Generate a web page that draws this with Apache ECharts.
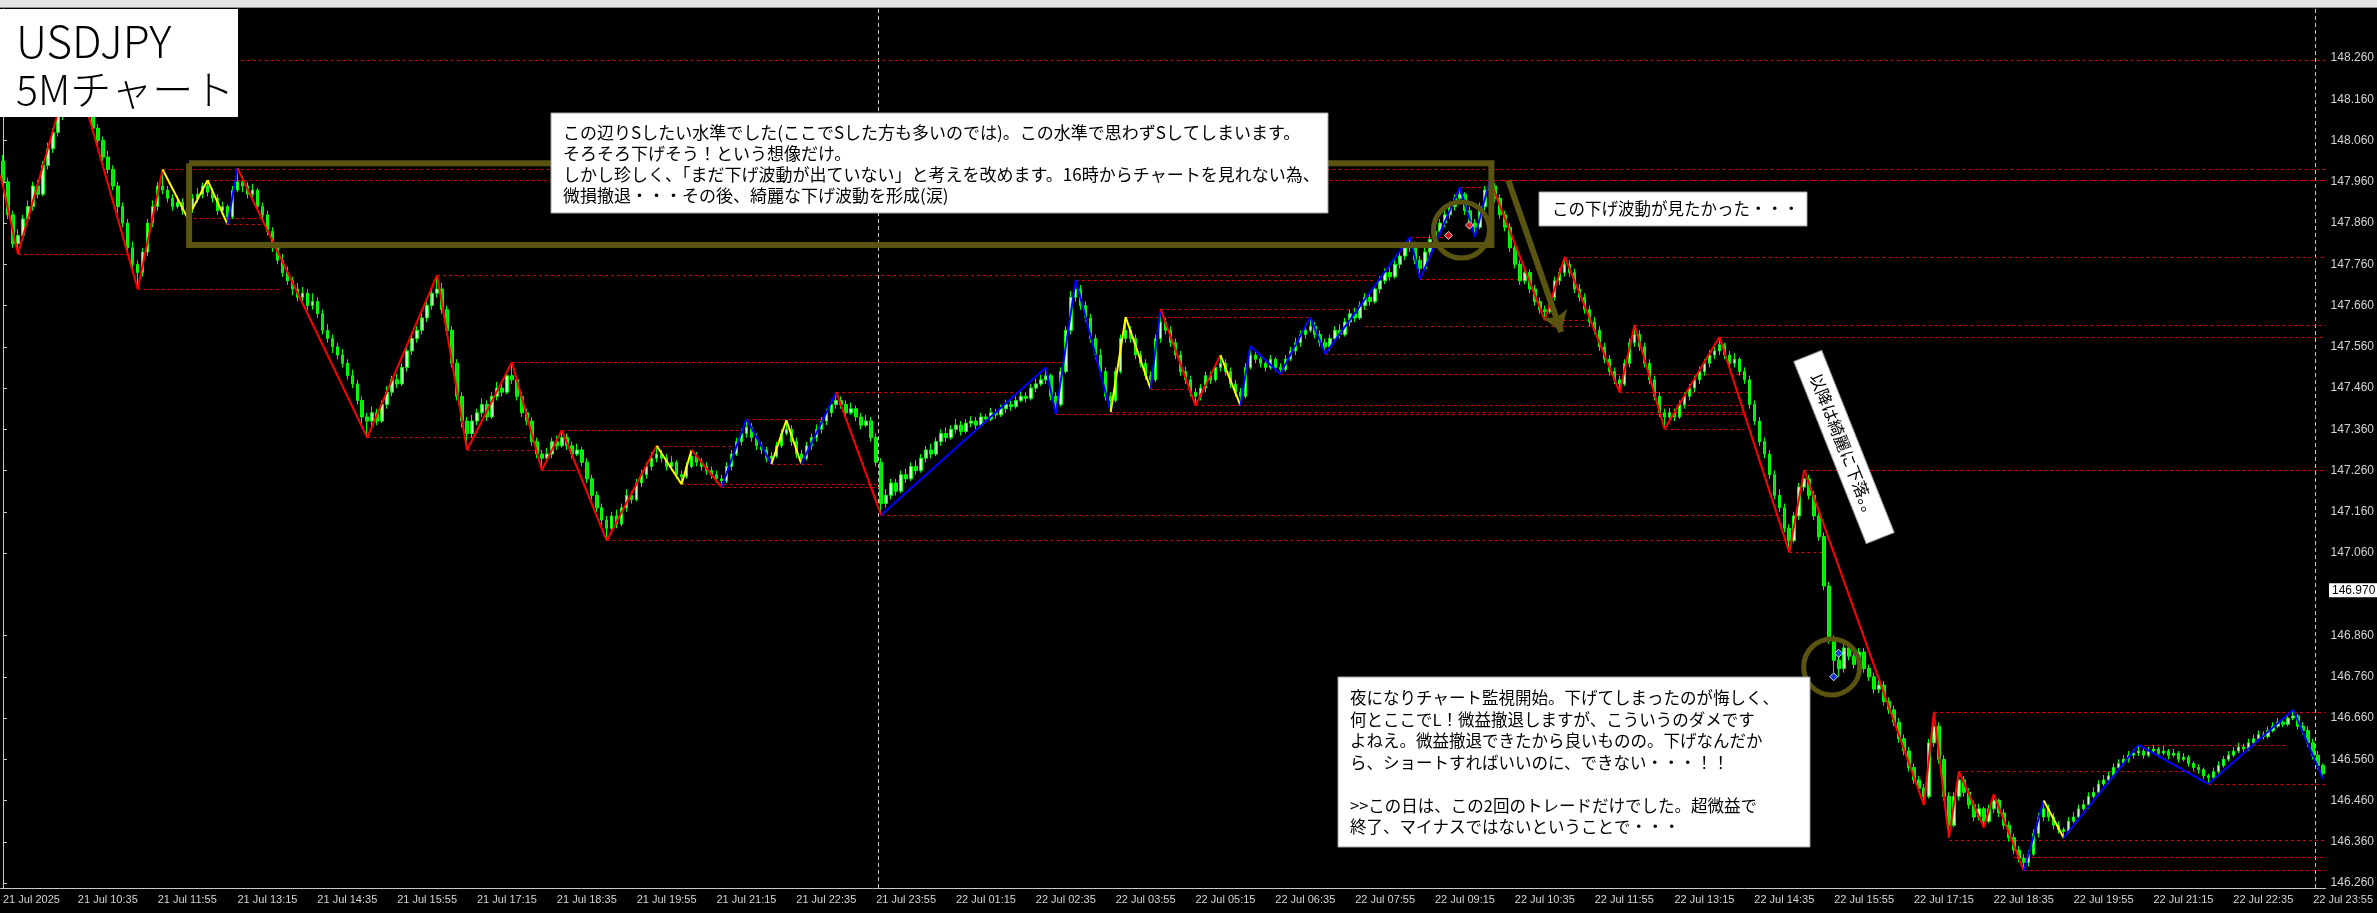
<!DOCTYPE html>
<html><head><meta charset="utf-8">
<script src="https://cdn.jsdelivr.net/npm/echarts@6/dist/echarts.min.js"></script>
<style>html,body{margin:0;padding:0;background:#000;}#c{width:2377px;height:913px;}</style>
</head><body><div id="c"></div>
<script>
// All prices stored in units of 0.001 JPY above BASE (e.g. 1785 -> 147.785)
const BASE = 146.0;
const firstLabel = "21 Jul 2025";
const startDay = 21, startMinute = 9 * 60 + 20; // first bar: 21 Jul 09:20, 5-minute bars
const openU = [
2010,1960,1880,1810,1830,1870,1900,1950,1930,2000,
2040,2080,2120,2150,2200,2210,2180,2140,2150,2090,
2060,2020,1990,1950,1900,1860,1800,1760,1740,1790,
1860,1900,1950,1940,1920,1900,1910,1890,1895,1920,
1930,1950,1935,1920,1890,1900,1875,1940,1960,1950,
1930,1940,1900,1880,1840,1800,1770,1740,1720,1700,
1680,1690,1660,1670,1640,1600,1580,1560,1540,1520,
1490,1470,1430,1390,1380,1400,1380,1420,1450,1480,
1470,1510,1550,1580,1600,1630,1660,1690,1700,1650,
1600,1520,1440,1380,1350,1380,1400,1420,1390,1440,
1460,1450,1490,1480,1440,1400,1380,1330,1300,1290,
1300,1330,1320,1340,1320,1300,1310,1280,1240,1200,
1170,1140,1120,1150,1130,1170,1200,1190,1230,1250,
1270,1290,1300,1290,1270,1280,1250,1245,1270,1295,
1280,1270,1260,1250,1240,1235,1270,1300,1330,1350,
1365,1340,1320,1310,1290,1295,1320,1350,1360,1330,
1300,1290,1320,1340,1360,1380,1400,1420,1430,1420,
1400,1410,1390,1370,1380,1340,1280,1180,1200,1230,
1210,1250,1240,1270,1260,1290,1310,1300,1330,1350,
1340,1360,1370,1355,1375,1380,1370,1390,1385,1400,
1395,1410,1420,1415,1430,1440,1435,1460,1470,1480,
1490,1440,1420,1500,1600,1680,1700,1660,1630,1580,
1540,1500,1440,1430,1500,1580,1600,1580,1540,1520,
1490,1480,1580,1620,1600,1570,1540,1500,1480,1450,
1440,1460,1490,1480,1510,1520,1500,1470,1450,1440,
1510,1540,1530,1520,1510,1530,1510,1505,1530,1550,
1570,1590,1600,1610,1590,1570,1560,1580,1600,1590,
1620,1640,1630,1660,1680,1670,1700,1720,1740,1730,
1760,1780,1800,1810,1770,1750,1790,1820,1840,1860,
1880,1900,1920,1930,1890,1860,1850,1900,1940,1950,
1920,1880,1850,1800,1760,1720,1740,1700,1670,1650,
1645,1680,1720,1740,1760,1740,1700,1680,1650,1620,
1600,1560,1530,1500,1480,1470,1520,1570,1590,1560,
1520,1480,1440,1400,1390,1400,1390,1420,1440,1460,
1480,1500,1520,1540,1550,1565,1540,1520,1530,1500,
1480,1420,1380,1330,1300,1250,1200,1170,1120,1090,
1150,1220,1240,1200,1150,1100,980,850,800,780,
830,810,790,820,780,760,730,740,700,680,
650,610,580,540,510,490,470,600,640,560,
470,400,470,510,480,450,420,440,410,440,
460,430,400,370,340,320,310,330,380,420,
440,420,400,390,385,410,420,440,450,470,
480,500,510,520,540,550,560,570,575,580,
570,580,585,575,580,570,575,560,565,550,
540,535,520,515,530,545,560,570,580,590,
585,600,610,620,615,630,640,650,645,660,
665,640,630,600,570,545];
const highU = [
2025,1970,1890,1845,1880,1915,1960,1965,2010,2055,
2090,2135,2160,2215,2255,2225,2190,2165,2160,2100,
2070,2035,2000,1960,1910,1870,1815,1770,1800,1870,
1915,1960,1990,1950,1930,1925,1920,1905,1930,1945,
1958,1964,1945,1930,1912,1905,1950,1993,1975,1960,
1955,1945,1910,1890,1850,1810,1785,1755,1730,1715,
1705,1700,1690,1680,1650,1615,1590,1570,1555,1530,
1505,1480,1440,1400,1415,1410,1430,1465,1490,1495,
1520,1560,1595,1610,1645,1670,1705,1734,1715,1660,
1610,1530,1450,1390,1395,1410,1435,1430,1450,1475,
1470,1500,1523,1490,1450,1410,1390,1340,1310,1315,
1340,1345,1358,1350,1330,1325,1318,1290,1250,1210,
1180,1150,1160,1165,1180,1215,1210,1240,1262,1280,
1305,1320,1310,1300,1295,1285,1260,1280,1310,1305,
1290,1280,1270,1260,1250,1280,1310,1340,1362,1385,
1375,1350,1330,1318,1305,1330,1360,1382,1370,1340,
1310,1330,1350,1372,1390,1410,1432,1450,1440,1430,
1425,1418,1400,1395,1390,1350,1290,1215,1240,1240,
1260,1265,1280,1285,1300,1320,1325,1340,1360,1365,
1370,1385,1380,1385,1392,1390,1400,1398,1412,1410,
1420,1432,1430,1440,1452,1450,1470,1482,1492,1510,
1495,1450,1510,1610,1695,1722,1710,1670,1640,1590,
1555,1510,1450,1510,1590,1632,1610,1590,1550,1530,
1500,1590,1652,1630,1610,1580,1550,1512,1490,1460,
1470,1500,1500,1520,1540,1530,1510,1480,1460,1520,
1562,1550,1540,1530,1540,1535,1520,1540,1560,1582,
1600,1612,1632,1620,1600,1580,1590,1610,1615,1630,
1650,1655,1670,1690,1692,1710,1732,1750,1752,1770,
1792,1810,1826,1815,1780,1800,1830,1852,1870,1892,
1912,1930,1947,1935,1900,1870,1910,1950,1965,1958,
1930,1890,1860,1810,1770,1752,1748,1710,1680,1660,
1690,1730,1750,1778,1770,1750,1712,1690,1660,1632,
1610,1570,1540,1510,1490,1530,1580,1613,1600,1570,
1530,1490,1450,1410,1412,1410,1430,1450,1470,1490,
1512,1530,1552,1562,1584,1570,1550,1545,1535,1510,
1490,1430,1390,1340,1310,1260,1215,1180,1130,1160,
1230,1261,1250,1210,1160,1110,990,860,820,845,
840,825,830,830,790,770,755,750,710,690,
660,620,590,550,520,500,610,675,650,570,
480,480,530,520,490,460,452,445,450,475,
465,440,410,380,350,330,340,390,430,460,
450,430,410,395,420,432,450,462,480,492,
510,522,530,550,560,570,580,585,595,588,
590,595,590,592,585,585,580,575,570,555,
548,540,525,540,555,568,580,590,600,598,
610,620,630,628,640,650,660,658,670,680,
670,650,640,610,580,550];
const lowU = [
1950,1870,1800,1785,1820,1860,1890,1920,1925,1990,
2030,2070,2110,2140,2190,2170,2130,2125,2080,2045,
2010,1980,1940,1885,1850,1790,1745,1700,1730,1780,
1850,1890,1930,1910,1890,1895,1880,1872,1885,1910,
1920,1925,1910,1880,1880,1857,1870,1935,1935,1920,
1920,1890,1870,1830,1790,1760,1730,1710,1685,1670,
1670,1650,1650,1630,1590,1570,1545,1530,1510,1480,
1460,1420,1375,1340,1365,1370,1375,1410,1440,1460,
1465,1500,1540,1570,1590,1620,1650,1680,1640,1590,
1510,1430,1365,1310,1340,1370,1390,1380,1385,1430,
1440,1445,1470,1430,1390,1370,1320,1290,1261,1280,
1290,1310,1315,1310,1290,1295,1270,1230,1190,1160,
1130,1090,1110,1120,1125,1160,1180,1185,1220,1240,
1260,1280,1280,1260,1260,1240,1227,1240,1265,1270,
1260,1250,1240,1230,1220,1230,1260,1295,1320,1340,
1330,1310,1300,1280,1276,1290,1315,1345,1320,1290,
1276,1285,1310,1330,1350,1370,1390,1410,1410,1390,
1395,1380,1360,1365,1330,1270,1152,1170,1190,1200,
1205,1230,1235,1250,1255,1280,1290,1295,1320,1330,
1335,1350,1345,1350,1365,1360,1365,1375,1380,1385,
1390,1400,1405,1410,1425,1425,1430,1450,1465,1470,
1430,1397,1415,1495,1590,1670,1650,1620,1570,1530,
1490,1430,1402,1425,1495,1570,1570,1530,1510,1480,
1458,1475,1570,1590,1560,1530,1490,1470,1440,1418,
1430,1450,1470,1475,1500,1490,1460,1440,1418,1435,
1505,1520,1510,1500,1505,1500,1494,1500,1525,1540,
1560,1580,1595,1580,1560,1543,1550,1575,1580,1585,
1610,1620,1625,1650,1660,1665,1690,1712,1720,1725,
1750,1770,1790,1760,1724,1745,1780,1810,1830,1850,
1870,1890,1910,1880,1850,1826,1845,1890,1930,1910,
1870,1840,1790,1750,1710,1712,1690,1660,1640,1625,
1640,1672,1710,1730,1730,1690,1670,1640,1610,1590,
1550,1520,1490,1470,1450,1465,1510,1560,1550,1510,
1470,1430,1390,1361,1380,1380,1385,1410,1430,1450,
1470,1490,1510,1530,1540,1530,1510,1510,1490,1470,
1410,1370,1320,1290,1240,1190,1160,1110,1062,1085,
1140,1210,1190,1140,1090,970,840,770,760,770,
800,780,785,770,750,720,720,690,670,640,
600,570,530,500,480,449,465,590,550,460,
370,395,460,470,440,410,412,395,405,430,
420,390,360,330,310,290,300,325,370,410,
410,390,380,370,380,405,410,435,440,465,
475,495,502,515,535,545,552,562,568,562,
565,572,565,570,560,565,552,555,542,532,
525,512,500,510,525,540,555,565,575,578,
580,595,605,608,610,625,635,638,640,655,
632,620,590,560,535,512];
const closeU = [
1960,1880,1810,1830,1870,1900,1950,1930,2000,2040,
2080,2120,2150,2200,2210,2180,2140,2150,2090,2060,
2020,1990,1950,1900,1860,1800,1760,1740,1790,1860,
1900,1950,1940,1920,1900,1910,1890,1895,1920,1930,
1950,1935,1920,1890,1900,1875,1940,1960,1950,1930,
1940,1900,1880,1840,1800,1770,1740,1720,1700,1680,
1690,1660,1670,1640,1600,1580,1560,1540,1520,1490,
1470,1430,1390,1380,1400,1380,1420,1450,1480,1470,
1510,1550,1580,1600,1630,1660,1690,1700,1650,1600,
1520,1440,1380,1350,1380,1400,1420,1390,1440,1460,
1450,1490,1480,1440,1400,1380,1330,1300,1290,1300,
1330,1320,1340,1320,1300,1310,1280,1240,1200,1170,
1140,1120,1150,1130,1170,1200,1190,1230,1250,1270,
1290,1300,1290,1270,1280,1250,1245,1270,1295,1280,
1270,1260,1250,1240,1235,1270,1300,1330,1350,1365,
1340,1320,1310,1290,1295,1320,1350,1360,1330,1300,
1290,1320,1340,1360,1380,1400,1420,1430,1420,1400,
1410,1390,1370,1380,1340,1280,1180,1200,1230,1210,
1250,1240,1270,1260,1290,1310,1300,1330,1350,1340,
1360,1370,1355,1375,1380,1370,1390,1385,1400,1395,
1410,1420,1415,1430,1440,1435,1460,1470,1480,1490,
1440,1420,1500,1600,1680,1700,1660,1630,1580,1540,
1500,1440,1430,1500,1580,1600,1580,1540,1520,1490,
1480,1580,1620,1600,1570,1540,1500,1480,1450,1440,
1460,1490,1480,1510,1520,1500,1470,1450,1440,1510,
1540,1530,1520,1510,1530,1510,1505,1530,1550,1570,
1590,1600,1610,1590,1570,1560,1580,1600,1590,1620,
1640,1630,1660,1680,1670,1700,1720,1740,1730,1760,
1780,1800,1810,1770,1750,1790,1820,1840,1860,1880,
1900,1920,1930,1890,1860,1850,1900,1940,1950,1920,
1880,1850,1800,1760,1720,1740,1700,1670,1650,1645,
1680,1720,1740,1760,1740,1700,1680,1650,1620,1600,
1560,1530,1500,1480,1470,1520,1570,1590,1560,1520,
1480,1440,1400,1390,1400,1390,1420,1440,1460,1480,
1500,1520,1540,1550,1565,1540,1520,1530,1500,1480,
1420,1380,1330,1300,1250,1200,1170,1120,1090,1150,
1220,1240,1200,1150,1100,980,850,800,780,830,
810,790,820,780,760,730,740,700,680,650,
610,580,540,510,490,470,600,640,560,470,
400,470,510,480,450,420,440,410,440,460,
430,400,370,340,320,310,330,380,420,440,
420,400,390,385,410,420,440,450,470,480,
500,510,520,540,550,560,570,575,580,570,
580,585,575,580,570,575,560,565,550,540,
535,520,515,530,545,560,570,580,590,585,
600,610,620,615,630,640,650,645,660,665,
640,630,600,570,545,525];

// Y axis tick labels (146.960 hidden behind the marked-price tag)
const yTicks = [146.26,146.36,146.46,146.56,146.66,146.76,146.86,147.06,147.16,147.26,147.36,147.46,147.56,147.66,147.76,147.86,147.96,148.06,148.16,148.26];
const markedPrice = 146.970;

// ZigZag pivots (bar index, price units) and segment colours (r/y/b)
const zigIdx = [-0.5,3,14,27,32,37,41,45,47,73,87,93,102,108,112,121,131,136,138,144,149,154,157,160,167,176,209,211,215,222,225,230,232,239,244,248,250,256,262,265,282,284,292,295,298,309,313,324,327,333,344,358,361,385,387,390,392,397,399,405,409,413,428,442,459,465];
const zigU = [1976,1785,2255,1700,1990,1872,1964,1857,1993,1340,1734,1310,1523,1261,1358,1090,1320,1227,1310,1220,1385,1276,1382,1276,1450,1152,1510,1397,1722,1402,1632,1458,1652,1418,1540,1418,1562,1494,1632,1543,1826,1724,1947,1826,1965,1625,1778,1450,1613,1361,1584,1062,1261,449,675,370,530,395,475,290,460,370,595,500,680,512];
const zigSegColor = "rrrryyybrrrrrrrryyrbbyybrbbbbyybrrybbbbbbbbbrrrrrrrrrrrrrrrbybbbb".split("");

// Horizontal support / resistance levels (price units, from bar, to bar)
const levelU =    [2255,1990,1963,1963,1872,1857,1785,1700,1734,1523,1340,1310,1358,1261,1090,1320,1227,1220,1385,1276,1450,1152,1722,1632,1652,1610,1543,1494,1458,1418,1397,1402,1778,1724,1826,1947,1625,1613,1584,1450,1361,1261,1062,675,500,595,364,323,290,530];
const levelFrom = [14,32,41,298,37,45,3,27,87,102,73,93,112,108,121,131,136,144,149,154,167,176,215,225,232,273,265,256,230,239,211,222,313,284,282,292,309,327,344,324,333,361,358,387,442,428,390,403,405,392];
const levelTo =   [465.5,465.5,298,465.5,52,52,25,56,275,212,106,108,148,117,358,146,176,176,164,164,204,357,275,262,274,319,319,349,238,349,349,349,465.5,306,289,297,319,465.5,465.5,350,349,465.5,365,465.5,465.5,458,465.5,465.5,465.5,440];
const dashedLevels = [3];

// Day separators (between bars)
const separatorIdx = [175.5, 463.5];

// Annotations (bar index, price units)
const boxCorners = [[37.3,2005],[298.3,2005],[298.3,1807],[37.3,1807],[37.3,2005]];
const arrowPts = [[301.7,1964],[312.3,1596]];
const circleCenters = [[292.3,1843],[366.5,784]];
const sellMarks = [[289.7,1830],[293.9,1855]];
const buyMarks = [[367.9,817],[366.9,760]];

const P = u => +(BASE + u / 1000).toFixed(3);
const categories = [];
for (let i = 0; i < closeU.length; i++) {
  const m = startMinute + 5 * i;
  const d = startDay + Math.floor(m / 1440);
  const mm = m % 1440;
  categories.push(d + ' Jul ' + String(Math.floor(mm / 60)).padStart(2, '0') + ':' + String(mm % 60).padStart(2, '0'));
}
const showLabel = i => i === 0 || (i >= 15 && (i - 15) % 16 === 0);
const candleData = closeU.map((c, i) => [P(openU[i]), P(c), P(lowU[i]), P(highU[i])]);
const zzColors = { r: '#ff0000', y: '#ffff00', b: '#0000ff' };
const zigData = [];
for (let k = 1; k < zigIdx.length; k++) {
  zigData.push({ coords: [[zigIdx[k - 1], P(zigU[k - 1])], [zigIdx[k], P(zigU[k])]], lineStyle: { color: zzColors[zigSegColor[k - 1]] } });
}
const levelData = levelU.map((u, k) => ({
  coords: [[levelFrom[k], P(u)], [levelTo[k], P(u)]],
  lineStyle: { type: dashedLevels.includes(k) ? [7, 3] : [3, 3] }
}));
const Y_MIN = 146.248, Y_MAX = 148.379;
const sepData = separatorIdx.map(x => ({ coords: [[x, Y_MIN], [x, Y_MAX]] }));
const OLIVE = '#5a5410';
const labelColor = '#d4d4d4';
const jp = '"Noto Sans CJK JP", sans-serif';

const chart = echarts.init(document.getElementById('c'), null, { width: 2377, height: 913 });
chart.setOption({
  backgroundColor: '#000',
  animation: false,
  grid: { left: 0, right: 49, top: 9, bottom: 25 },
  xAxis: [{
    type: 'category', data: categories, boundaryGap: true,
    axisLine: { lineStyle: { color: '#c8c8c8', width: 1 } },
    axisTick: { interval: (i) => showLabel(i), alignWithLabel: true, length: 4, lineStyle: { color: '#c8c8c8' } },
    axisLabel: { interval: (i) => showLabel(i), formatter: (v, i) => i === 0 ? firstLabel : v, align: 'left', color: labelColor, fontSize: 11, fontFamily: 'Liberation Sans', margin: 6 },
    splitLine: { show: false }
  }, { type: 'value', min: -0.5, max: 465.5, show: false }],
  yAxis: {
    type: 'value', position: 'right', min: Y_MIN, max: Y_MAX, scale: true,
    axisLine: { show: true, lineStyle: { color: '#c8c8c8' } },
    axisTick: { show: true, customValues: yTicks, length: 4, lineStyle: { color: '#c8c8c8' } },
    axisLabel: { customValues: yTicks, formatter: v => v.toFixed(3), color: labelColor, fontSize: 12, fontFamily: 'Liberation Sans', margin: 5 },
    splitLine: { show: false }
  },
  series: [
    { type: 'lines', coordinateSystem: 'cartesian2d', xAxisIndex: 1, z: 1, silent: true,
      lineStyle: { color: '#c8c8c8', width: 1, type: [4, 3], opacity: 1 }, data: sepData },
    { type: 'lines', coordinateSystem: 'cartesian2d', xAxisIndex: 1, z: 2, silent: true,
      lineStyle: { color: '#e00000', width: 1, opacity: 1 }, data: levelData },
    { type: 'candlestick', xAxisIndex: 0, z: 3, barWidth: 3, data: candleData,
      itemStyle: { color: '#c0ffc0', color0: '#00e600', borderColor: '#00ff00', borderColor0: '#00ff00', borderWidth: 1 } },
    { type: 'lines', coordinateSystem: 'cartesian2d', xAxisIndex: 1, z: 4, silent: true,
      lineStyle: { width: 2, opacity: 1 }, data: zigData },
    { type: 'lines', coordinateSystem: 'cartesian2d', xAxisIndex: 1, z: 5, silent: true, polyline: true,
      lineStyle: { color: OLIVE, width: 6, opacity: 1 }, data: [{ coords: boxCorners.map(c => [c[0], P(c[1])]) }] },
    { type: 'lines', coordinateSystem: 'cartesian2d', xAxisIndex: 1, z: 5, silent: true,
      symbol: ['none', 'arrow'], symbolSize: 20,
      lineStyle: { color: OLIVE, width: 6, opacity: 1 }, data: [{ coords: arrowPts.map(c => [c[0], P(c[1])]) }] },
    { type: 'scatter', xAxisIndex: 1, z: 5, silent: true, symbol: 'circle', symbolSize: 56,
      itemStyle: { color: 'rgba(0,0,0,0)', borderColor: OLIVE, borderWidth: 5, opacity: 1 },
      data: circleCenters.map(c => [c[0], P(c[1])]) },
    { type: 'scatter', xAxisIndex: 1, z: 6, silent: true, symbol: 'diamond', symbolSize: 8,
      itemStyle: { color: '#ff2020', borderColor: '#fff', borderWidth: 1 }, data: sellMarks.map(c => [c[0], P(c[1])]) },
    { type: 'scatter', xAxisIndex: 1, z: 6, silent: true, symbol: 'diamond', symbolSize: 8,
      itemStyle: { color: '#2040ff', borderColor: '#fff', borderWidth: 1 }, data: buyMarks.map(c => [c[0], P(c[1])]) }
  ]
});

// marked price tag on the price scale, positioned through the y axis
const tagY = chart.convertToPixel({ yAxisIndex: 0 }, markedPrice);
chart.setOption({
  graphic: [
    { type: 'rect', z: 100, shape: { x: 0, y: 0, width: 2377, height: 7 }, style: { fill: '#e4e4e4' } },
    { type: 'rect', z: 100, shape: { x: 0, y: 7, width: 2377, height: 1 }, style: { fill: '#909090' } },
    { type: 'rect', z: 100, shape: { x: 2329, y: tagY - 7, width: 48, height: 14 }, style: { fill: '#ffffff' } },
    { type: 'text', z: 101, x: 2332, y: tagY, style: { text: markedPrice.toFixed(3), font: '12px "Liberation Sans"', fill: '#000', verticalAlign: 'middle' } },
    { type: 'rect', z: 100, shape: { x: 0, y: 9, width: 238, height: 108 }, style: { fill: '#fff' } },
    { type: 'text', z: 101, x: 16, y: 41, style: { text: 'USDJPY', font: '300 44px ' + jp, fill: '#000', verticalAlign: 'middle' } },
    { type: 'text', z: 101, x: 16, y: 89, style: { text: '5Mチャート', font: '300 41px ' + jp, fill: '#000', verticalAlign: 'middle' } },
    { type: 'rect', z: 100, shape: { x: 551, y: 113, width: 777, height: 100 }, style: { fill: '#fff', stroke: '#a0a0a0', lineWidth: 1 } },
    { type: 'text', z: 101, x: 563, y: 122, style: { text: 'この辺りSしたい水準でした(ここでSした方も多いのでは)。この水準で思わずSしてしまいます。\nそろそろ下げそう！という想像だけ。\nしかし珍しく、「まだ下げ波動が出ていない」と考えを改めます。16時からチャートを見れない為、\n微損撤退・・・その後、綺麗な下げ波動を形成(涙)', font: '17px ' + jp, fill: '#000', lineHeight: 21, verticalAlign: 'top' } },
    { type: 'rect', z: 100, shape: { x: 1539, y: 192, width: 268, height: 34 }, style: { fill: '#fff', stroke: '#a0a0a0', lineWidth: 1 } },
    { type: 'text', z: 101, x: 1552, y: 209, style: { text: 'この下げ波動が見たかった・・・', font: '16.5px ' + jp, fill: '#000', verticalAlign: 'middle' } },
    { type: 'group', z: 100, x: 1844, y: 447, rotation: -1.192, children: [
      { type: 'rect', z: 100, shape: { x: -98, y: -15, width: 196, height: 30 }, style: { fill: '#fff', stroke: '#a0a0a0', lineWidth: 1 } },
      { type: 'text', z: 101, x: 0, y: 0, style: { text: '以降は綺麗に下落。。', font: '16.5px ' + jp, fill: '#000', align: 'center', verticalAlign: 'middle' } }
    ] },
    { type: 'rect', z: 100, shape: { x: 1338, y: 677, width: 472, height: 170 }, style: { fill: '#fff', stroke: '#a0a0a0', lineWidth: 1 } },
    { type: 'text', z: 101, x: 1350, y: 687, style: { text: '夜になりチャート監視開始。下げてしまったのが悔しく、\n何とここでL！微益撤退しますが、こういうのダメです\nよねえ。微益撤退できたから良いものの。下げなんだか\nら、ショートすればいいのに、できない・・・！！\n\n>>この日は、この2回のトレードだけでした。超微益で\n終了、マイナスではないということで・・・', font: '16.5px ' + jp, fill: '#000', lineHeight: 21.5, verticalAlign: 'top' } }
  ]
});
</script>
</body></html>
